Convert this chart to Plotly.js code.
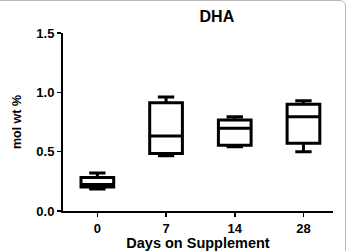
<!DOCTYPE html>
<html>
<head>
<meta charset="utf-8">
<script src="https://cdn.plot.ly/plotly-3.0.1.min.js"></script>
<style>
  html, body { margin: 0; padding: 0; background: #fff; }
  #chart { width: 348px; height: 251px; }
  #frame { position: absolute; left: -4px; top: 0; width: 350px; height: 260px;
           border: 1px solid #b8b8b8; border-radius: 0 6px 0 0; pointer-events: none; box-sizing: border-box; }
</style>
</head>
<body>
<div id="chart"></div>
<div id="frame"></div>
<script>
// DHA content (mol wt %) by days on supplement: box summary statistics
const days = ['0', '7', '14', '28'];
const lowerWhisker = [0.186, 0.465, 0.541, 0.499];
const q1 = [0.203, 0.485, 0.555, 0.570];
const median = [0.223, 0.631, 0.697, 0.795];
const q3 = [0.282, 0.913, 0.767, 0.900];
const upperWhisker = [0.321, 0.961, 0.795, 0.930];
const yTicks = [0.0, 0.5, 1.0, 1.5];
const yTickText = ['0.0', '0.5', '1.0', '1.5'];

const fontFamily = '"Liberation Sans", Arial, sans-serif';

const trace = {
  type: 'box',
  x: days,
  q1: q1,
  median: median,
  q3: q3,
  lowerfence: lowerWhisker,
  upperfence: upperWhisker,
  fillcolor: '#ffffff',
  line: { color: '#000000', width: 3 },
  whiskerwidth: 0.5,
  boxpoints: false,
  hoverinfo: 'skip'
};

const layout = {
  width: 348,
  height: 251,
  margin: { l: 63, r: 15, t: 33, b: 40 },
  paper_bgcolor: '#ffffff',
  plot_bgcolor: '#ffffff',
  showlegend: false,
  boxgap: 0.32,
  title: {
    text: '<b>DHA</b>',
    font: { family: fontFamily, size: 16, color: '#000' },
    xref: 'paper', x: 0.57, xanchor: 'center',
    yref: 'container', y: 0.935, yanchor: 'middle'
  },
  xaxis: {
    type: 'category',
    range: [-0.5, 3.43],
    showline: true, linecolor: '#000', linewidth: 2,
    ticks: 'outside', ticklen: 4, tickwidth: 1.5, tickcolor: '#000',
    showgrid: false, zeroline: false,
    tickfont: { family: fontFamily, size: 13, color: '#000', weight: 'bold' },
    title: {
      text: '<b>Days on Supplement</b>',
      font: { family: fontFamily, size: 14.5, color: '#000' },
      standoff: 3
    }
  },
  yaxis: {
    range: [0, 1.5],
    tickvals: yTicks,
    ticktext: yTickText,
    showline: true, linecolor: '#000', linewidth: 2,
    ticks: 'outside', ticklen: 4, tickwidth: 1.5, tickcolor: '#000',
    showgrid: false, zeroline: false,
    tickfont: { family: fontFamily, size: 13, color: '#000', weight: 'bold' },
    title: {
      text: '<b>mol wt %</b>',
      font: { family: fontFamily, size: 12.5, color: '#000' },
      standoff: 12
    }
  }
};

Plotly.newPlot('chart', [trace], layout, { staticPlot: true, displayModeBar: false });
</script>
</body>
</html>
